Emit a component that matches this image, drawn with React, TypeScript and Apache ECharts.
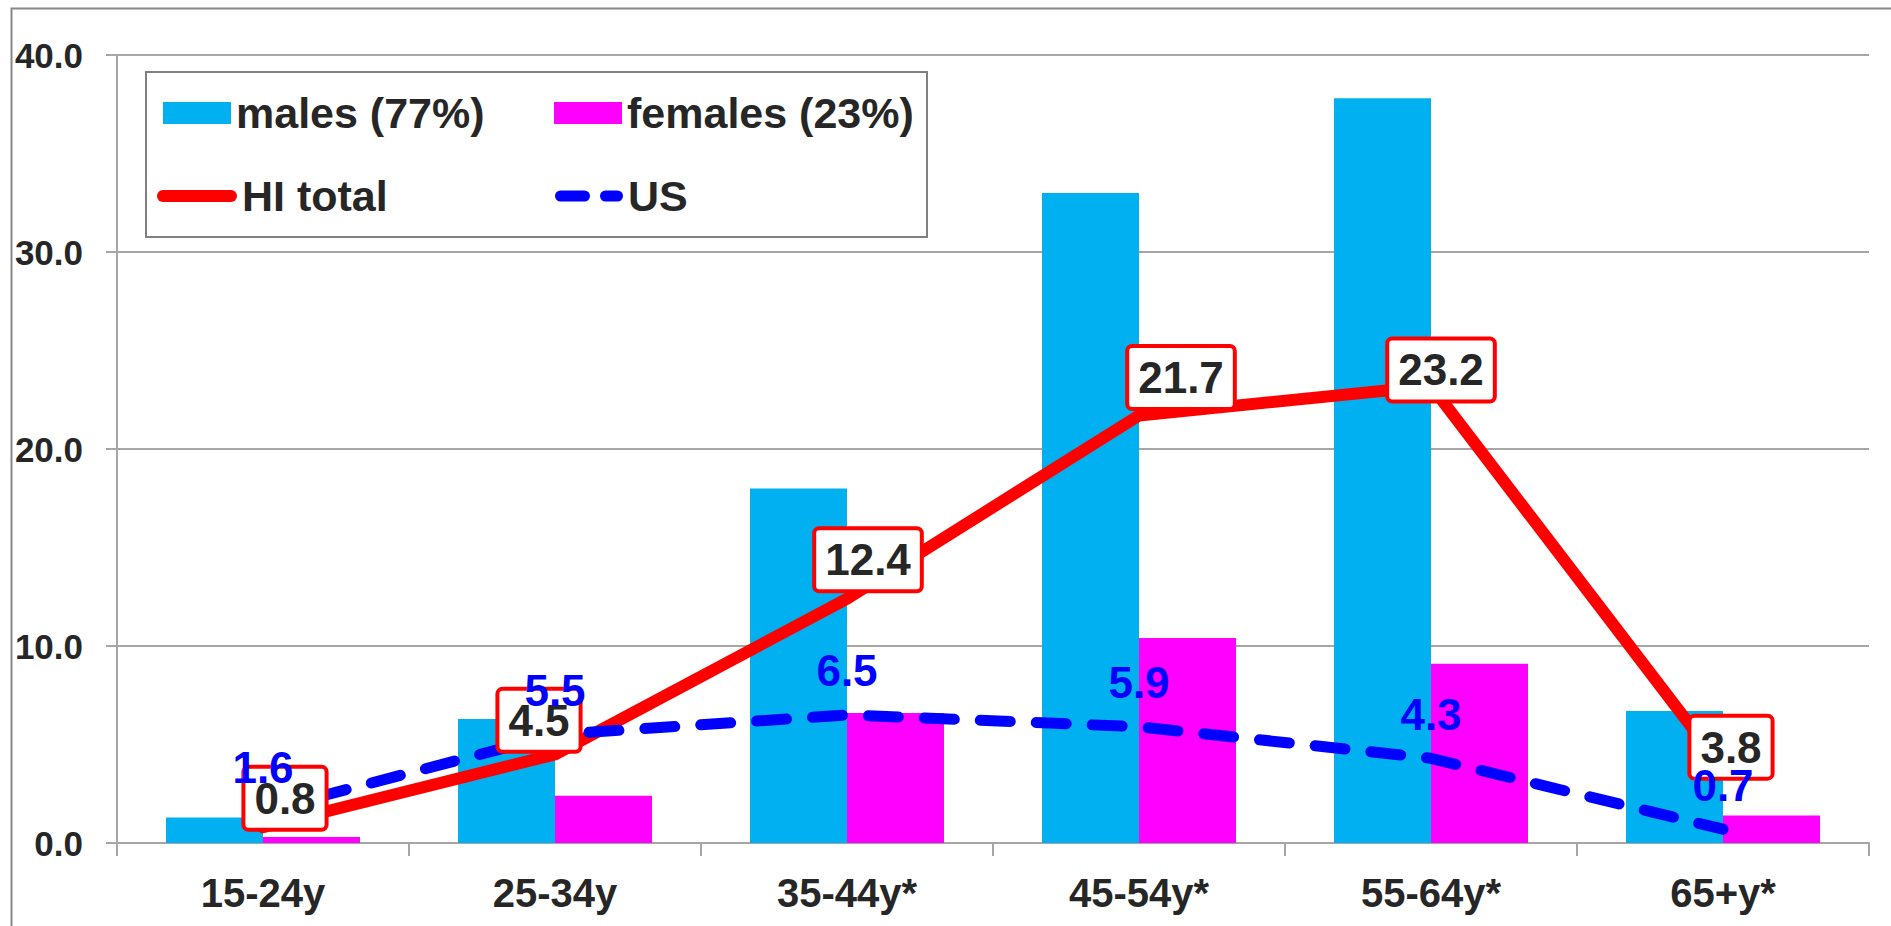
import React, { useEffect, useRef } from "react";
import * as echarts from "echarts";

const categories = ["15-24y", "25-34y", "35-44y*", "45-54y*", "55-64y*", "65+y*"];
const males = [1.3, 6.3, 18.0, 33.0, 37.8, 6.7];
const females = [0.3, 2.4, 6.6, 10.4, 9.1, 1.4];
const hiTotal = [0.8, 4.5, 12.4, 21.7, 23.2, 3.8];
const usTotal = [1.6, 5.5, 6.5, 5.9, 4.3, 0.7];
const yTicks = [0, 10, 20, 30, 40];

// label placement (layout only)
const hiLabelOffsets = [
  [22, -29],
  [-16, -34],
  [21, -39],
  [42, -38],
  [10, -16],
  [8, -21],
];

const FONT = "Liberation Sans, Arial, sans-serif";
const TEXT = "#262626";
const GRID = "#a6a6a6";

const HI_ICON = "path://M6,0 H74 A6,6 0 0 1 74,12 H6 A6,6 0 0 1 6,0 Z";
const US_ICON =
  "path://M5.5,0 H29.5 A5.5,5.5 0 0 1 29.5,11 H5.5 A5.5,5.5 0 0 1 5.5,0 Z M50.5,0 H62.5 A5.5,5.5 0 0 1 62.5,11 H50.5 A5.5,5.5 0 0 1 50.5,0 Z";

export default function App() {
  const ref = useRef<HTMLDivElement>(null);
  useEffect(() => {
    if (!ref.current) return;
    const chart = echarts.init(ref.current, undefined, { renderer: "svg" });
    const legendText = {
      fontFamily: FONT,
      fontSize: 43,
      fontWeight: "bold",
      color: TEXT,
      lineHeight: 44,
    };
    const mkLegend = (item: any, left: number, top: number, w: number, h: number) => ({
      data: [item],
      left,
      top,
      orient: "horizontal",
      padding: 0,
      itemWidth: w,
      itemHeight: h,
      selectedMode: false,
      textStyle: legendText,
    });
    chart.setOption({
      animation: false,
      backgroundColor: "#ffffff",
      grid: { left: 117, right: 22, top: 55, bottom: 83, containLabel: false },
      legend: [
        mkLegend({ name: "males (77%)", icon: "rect" }, 163, 91, 68, 22),
        mkLegend({ name: "females (23%)", icon: "rect" }, 554, 91, 68, 22),
        mkLegend({ name: "HI total", icon: HI_ICON }, 157, 174, 80, 12),
        mkLegend({ name: "US", icon: US_ICON }, 555, 174, 68, 11),
      ],
      graphic: [
        {
          type: "rect",
          left: 9,
          top: 6,
          shape: { x: 0, y: 0, width: 2000, height: 2000 },
          style: { fill: "none", stroke: "#888888", lineWidth: 2 },
          z: -1,
          silent: true,
        },
        {
          type: "rect",
          shape: { x: 146, y: 72, width: 781, height: 165 },
          style: { fill: "#ffffff", stroke: "#808080", lineWidth: 2 },
          z: 1,
          silent: true,
        },
      ],
      xAxis: {
        type: "category",
        data: categories,
        axisLine: { show: true, lineStyle: { color: GRID, width: 2 } },
        axisTick: { show: true, length: 13, lineStyle: { color: GRID, width: 2 } },
        axisLabel: {
          fontFamily: FONT,
          fontSize: 40,
          fontWeight: "bold",
          color: TEXT,
          margin: 30,
        },
      },
      yAxis: {
        type: "value",
        min: yTicks[0],
        max: yTicks[yTicks.length - 1],
        interval: 10,
        axisLine: { show: true, lineStyle: { color: GRID, width: 2 } },
        axisTick: { show: true, length: 11, lineStyle: { color: GRID, width: 2 } },
        splitLine: { show: true, lineStyle: { color: GRID, width: 2 } },
        axisLabel: {
          fontFamily: FONT,
          fontSize: 35,
          fontWeight: "bold",
          color: TEXT,
          margin: 34,
          formatter: (v: number) => v.toFixed(1),
        },
      },
      series: [
        {
          name: "males (77%)",
          type: "bar",
          data: males,
          barWidth: 97,
          barGap: "0%",
          itemStyle: { color: "#00b0f0" },
          z: 2,
        },
        {
          name: "females (23%)",
          type: "bar",
          data: females,
          barWidth: 97,
          barGap: "0%",
          itemStyle: { color: "#ff00ff" },
          z: 2,
        },
        {
          name: "HI total",
          type: "line",
          data: hiTotal,
          symbol: "none",
          itemStyle: { color: "#ff0000" },
          lineStyle: { color: "#ff0000", width: 12, cap: "round", join: "round" },
          z: 3,
        },
        {
          name: "US",
          type: "line",
          data: usTotal,
          symbol: "none",
          itemStyle: { color: "#0000ff" },
          lineStyle: {
            color: "#0000ff",
            width: 11,
            type: [30, 26],
            cap: "round",
            join: "round",
          },
          z: 3,
        },
        {
          name: "HI labels",
          type: "scatter",
          data: hiTotal.map((v, i) => ({
            value: v,
            label: { offset: hiLabelOffsets[i] },
          })),
          symbolSize: 1,
          itemStyle: { color: "rgba(0,0,0,0)", opacity: 1 },
          z: 5,
          label: {
            show: true,
            position: "inside",
            opacity: 1,
            fontFamily: FONT,
            fontSize: 44,
            fontWeight: "bold",
            color: TEXT,
            backgroundColor: "#ffffff",
            borderColor: "#ff0000",
            borderWidth: 4,
            borderRadius: 3,
            padding: [5, 9, 4, 9],
            lineHeight: 50,
            formatter: (p: any) => Number(p.value).toFixed(1),
          },
        },
        {
          name: "US labels",
          type: "scatter",
          data: usTotal,
          symbolSize: 1,
          itemStyle: { color: "rgba(0,0,0,0)", opacity: 1 },
          z: 6,
          label: {
            show: true,
            position: "inside",
            offset: [0, -44],
            opacity: 1,
            fontFamily: FONT,
            fontSize: 44,
            fontWeight: "bold",
            color: "#0000ff",
            formatter: (p: any) => Number(p.value).toFixed(1),
          },
        },
      ],
    });
    return () => chart.dispose();
  }, []);
  return (
    <div
      ref={ref}
      style={{ position: "fixed", left: 0, top: 0, width: 1891, height: 926 }}
    />
  );
}
